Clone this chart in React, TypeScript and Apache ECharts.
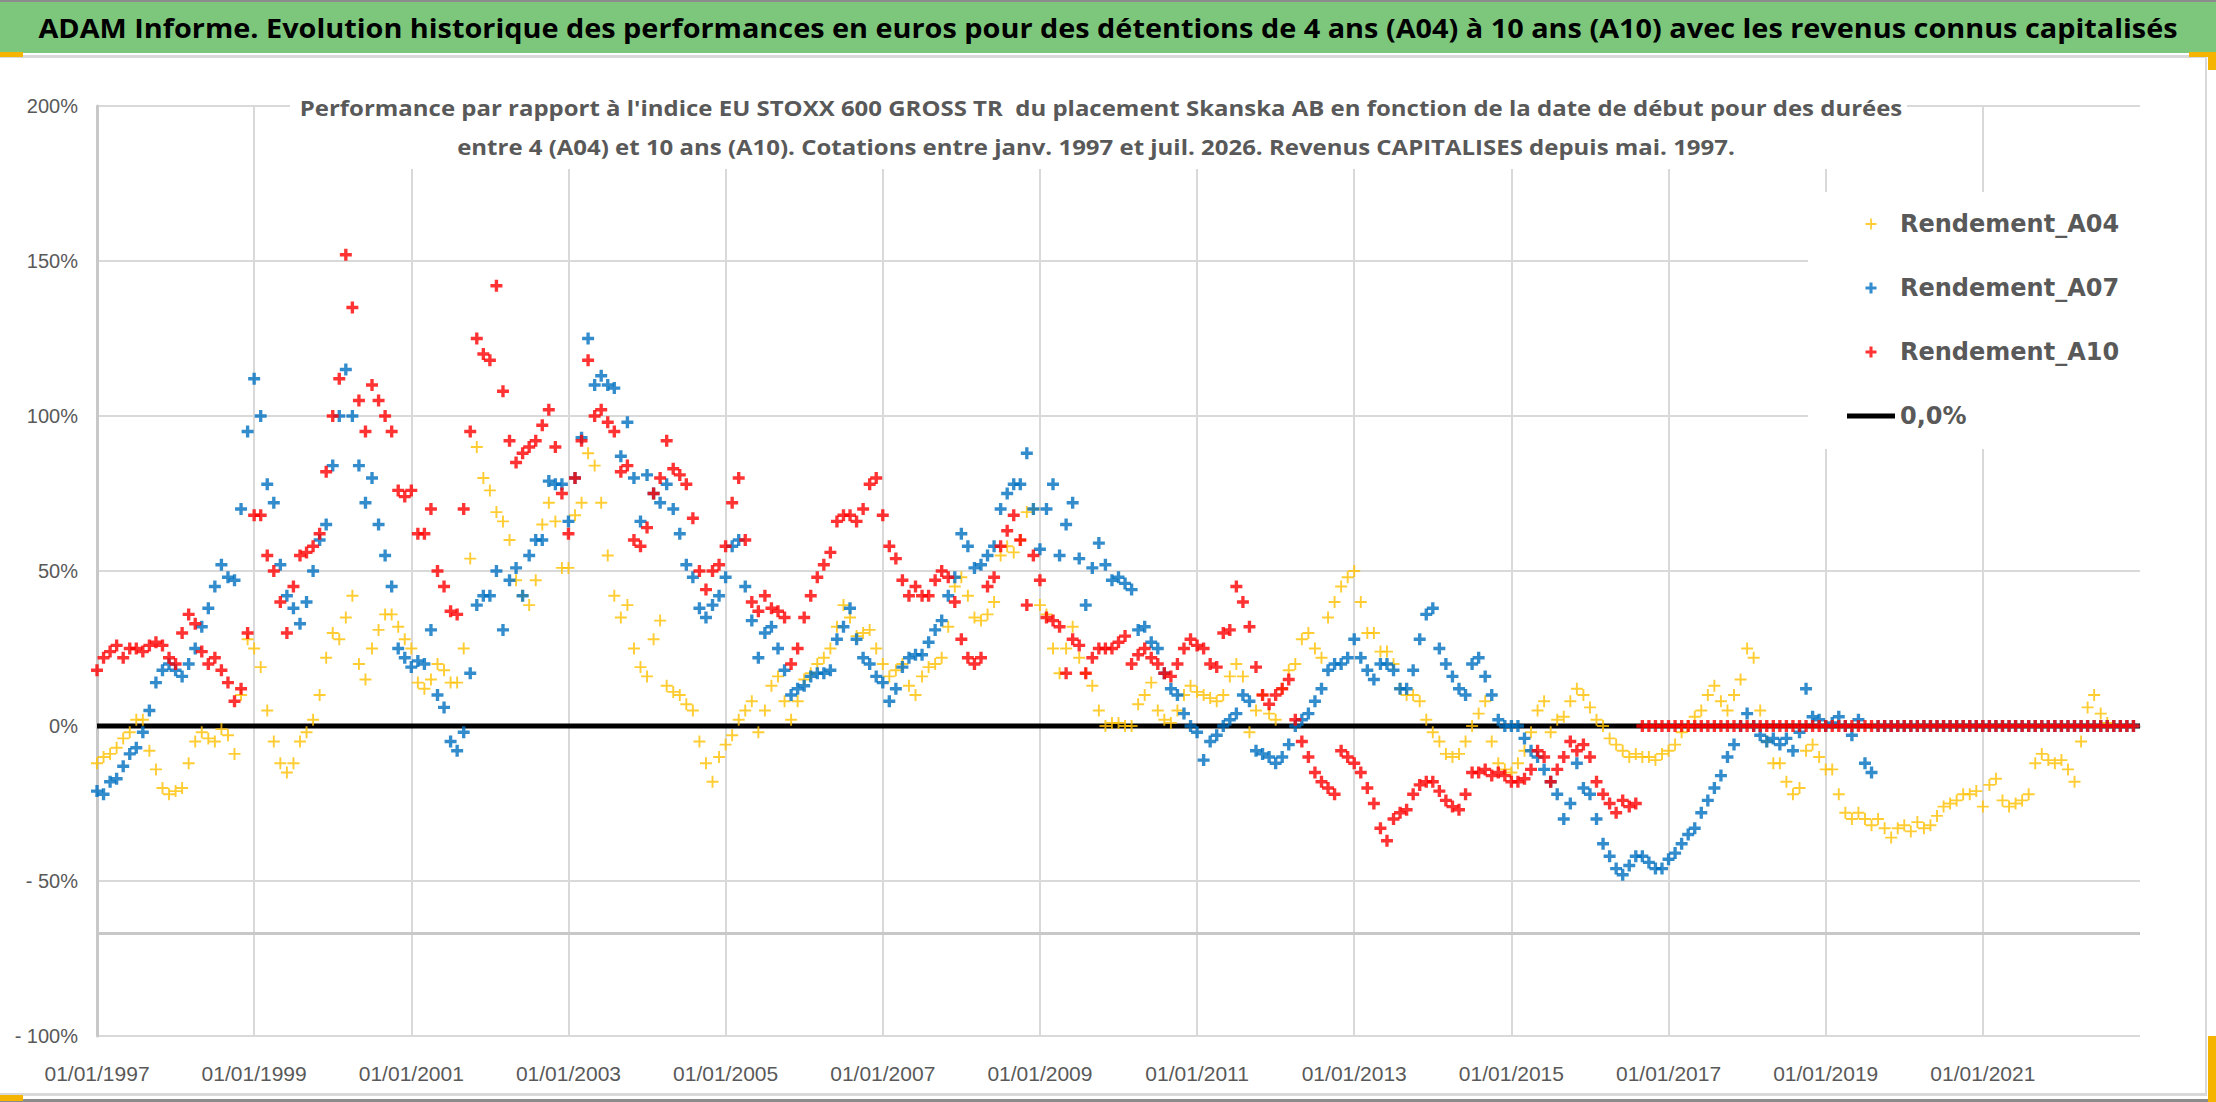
import React, { useEffect, useRef } from 'react';
import * as echarts from 'echarts';

// months since 01/01/1997 are the x values, 12 per row
const xTickLabels = [
  '01/01/1997', '01/01/1999', '01/01/2001', '01/01/2003', '01/01/2005', '01/01/2007',
  '01/01/2009', '01/01/2011', '01/01/2013', '01/01/2015', '01/01/2017', '01/01/2019', '01/01/2021',
];

const seriesNames = ['Rendement_A04', 'Rendement_A07', 'Rendement_A10', '0,0%'];

// performance in %, one value per month from janv. 1997 to déc. 2022
const rendementA04 = [
  -12, -10, -9, -7, -4, -2, 2, 2, -8, -14, -20, -22,
  -21, -20, -12, -5, -2, -4, -5, -1, -3, -9, 10, 28,
  25, 19, 5, -5, -12, -15, -12, -5, -2, 2, 10, 22,
  30, 28, 35, 42, 20, 15, 25, 31, 36, 36, 32, 28,
  25, 14, 12, 15, 20, 18, 14, 14, 25, 54, 90, 80,
  76, 69, 66, 60, 47, 42, 39, 47, 65, 72, 66, 51,
  51, 68, 72, 88, 84, 72, 55, 42, 35, 39, 25, 19,
  16, 28, 34, 13, 11, 10, 7, 5, -5, -12, -18, -10,
  -6, -3, 2, 5, 8, -2, 5, 13, 16, 8, 2, 8,
  15, 17, 20, 22, 25, 32, 39, 35, 29, 30, 31, 25,
  20, 16, 18, 20, 13, 10, 16, 19, 20, 22, 32, 45,
  48, 42, 35, 34, 36, 40, 55, 58, 56, 60, 69, 70,
  39, 36, 25, 17, 25, 32, 22, 17, 13, 5, 0, 1,
  1, 0, 0, 7, 10, 14, 5, 2, 1, 5, 10, 13,
  11, 10, 9, 8, 10, 16, 20, 16, -2, 5, 10, 4,
  2, 12, 18, 20, 28, 30, 25, 22, 35, 40, 45, 48,
  50, 40, 30, 30, 24, 24, 20, 12, 10, 10, 8, 2,
  -2, -5, -9, -10, -9, -5, 0, 4, 8, -5, -12, -14,
  -15, -12, -8, -2, 5, 8, -2, 2, 3, 8, 12, 10,
  6, 2, 0, -4, -6, -8, -10, -9, -10, -10, -11, -9,
  -8, -6, -2, 0, 3, 5, 10, 13, 8, 5, 10, 15,
  25, 22, 5, -5, -12, -12, -18, -22, -20, -8, -6, -10,
  -14, -14, -22, -28, -30, -28, -30, -32, -30, -33, -36, -33,
  -32, -34, -31, -33, -32, -29, -26, -25, -24, -22, -22, -21,
  -26, -19, -17, -24, -26, -25, -24, -22, -12, -9, -11, -12,
  -11, -14, -18, -5, 6, 10, 4, 1, 0, 0, 0, 0,
];

const rendementA07 = [
  -21, -22, -18, -17, -13, -9, -7, -2, 5, 14, 18, 20,
  18, 16, 20, 25, 32, 38, 45, 52, 48, 47, 70, 95,
  112, 100, 78, 72, 52, 42, 38, 33, 40, 50, 60, 65,
  84, 100, 115, 100, 84, 72, 80, 65, 55, 45, 25, 22,
  19, 21, 20, 31, 10, 6, -5, -8, -2, 17, 39, 42,
  42, 50, 31, 47, 51, 42, 55, 60, 60, 79, 78, 78,
  66, 80, 93, 125, 110, 113, 110, 109, 87, 98, 80, 66,
  81, 75, 72, 78, 70, 62, 52, 48, 38, 35, 39, 42,
  48, 58, 60, 45, 34, 22, 30, 32, 25, 18, 10, 12,
  13, 16, 17, 17, 18, 28, 32, 38, 28, 22, 20, 16,
  14, 8, 12, 19, 22, 23, 23, 27, 31, 34, 42, 48,
  62, 58, 51, 52, 55, 58, 70, 75, 78, 78, 88, 70,
  57, 70, 78, 55, 65, 72, 54, 39, 51, 59, 52, 47,
  48, 46, 44, 31, 32, 27, 25, 17, 12, 10, 4, 0,
  -2, -11, -5, -3, 0, 2, 4, 10, 8, -8, -9, -10,
  -12, -10, -6, 0, 2, 4, 8, 12, 18, 20, 20, 22,
  28, 22, 18, 15, 20, 20, 18, 12, 12, 18, 28, 36,
  38, 25, 20, 16, 12, 10, 20, 22, 16, 10, 2, 0,
  0, 0, -4, -8, -10, -14, -18, -22, -30, -25, -12, -20,
  -22, -30, -38, -42, -46, -48, -45, -42, -42, -44, -46, -46,
  -43, -41, -38, -35, -33, -28, -24, -20, -16, -10, -6, 0,
  4, 0, -3, -5, -4, -6, -4, -8, -2, 12, 3, 2,
  0, 1, 3, 0, -3, 2, -12, -15, 0, 0, 0, 0,
  0, 0, 0, 0, 0, 0, 0, 0, 0, 0, 0, 0,
  0, 0, 0, 0, 0, 0, 0, 0, 0, 0, 0, 0,
  0, 0, 0, 0, 0, 0, 0, 0, 0, 0, 0, 0,
];

const rendementA10 = [
  18, 22, 24, 26, 22, 25, 25, 24, 26, 27, 26, 22,
  20, 30, 36, 33, 24, 20, 22, 18, 14, 8, 12, 30,
  68, 68, 55, 50, 40, 30, 45, 55, 56, 58, 62, 82,
  100, 112, 152, 135, 105, 95, 110, 105, 100, 95, 76, 74,
  76, 62, 62, 70, 50, 45, 37, 36, 70, 95, 125, 120,
  118, 142, 108, 92, 85, 88, 90, 92, 97, 102, 90, 75,
  62, 80, 92, 118, 100, 102, 98, 95, 82, 84, 60, 58,
  64, 75, 80, 92, 83, 81, 78, 67, 50, 44, 50, 52,
  58, 72, 80, 60, 40, 37, 42, 38, 37, 35, 20, 25,
  35, 42, 48, 52, 56, 66, 68, 68, 66, 70, 78, 80,
  68, 58, 54, 47, 42, 45, 42, 42, 47, 50, 48, 40,
  28, 22, 20, 22, 45, 48, 58, 63, 68, 60, 39, 55,
  47, 35, 34, 32, 17, 28, 26, 17, 22, 25, 25, 25,
  27, 29, 20, 23, 25, 22, 20, 17, 16, 20, 25, 28,
  26, 25, 20, 19, 30, 31, 45, 40, 32, 19, 10, 7,
  10, 12, 15, 2, -5, -10, -15, -18, -20, -22, -8, -10,
  -12, -15, -20, -25, -33, -37, -30, -28, -27, -22, -19, -18,
  -18, -21, -24, -26, -27, -22, -15, -15, -14, -16, -15, -16,
  -18, -18, -17, -14, -8, -10, -18, -14, -10, -5, -8, -6,
  -10, -18, -22, -25, -28, -24, -26, -25, 0, 0, 0, 0,
  0, 0, 0, 0, 0, 0, 0, 0, 0, 0, 0, 0,
  0, 0, 0, 0, 0, 0, 0, 0, 0, 0, 0, 0,
  0, 0, 0, 0, 0, 0, 0, 0, 0, 0, 0, 0,
  0, 0, 0, 0, 0, 0, 0, 0, 0, 0, 0, 0,
  0, 0, 0, 0, 0, 0, 0, 0, 0, 0, 0, 0,
  0, 0, 0, 0, 0, 0, 0, 0, 0, 0, 0, 0,
];

const zeroLine = [[0, 0], [312, 0]];

const TITLE = 'ADAM Informe. Evolution historique des performances en euros pour des détentions de 4 ans (A04) à 10 ans (A10) avec les revenus connus capitalisés';
const SUBTITLE_1 = "Performance par rapport à l'indice EU STOXX 600 GROSS TR  du placement Skanska AB en fonction de la date de début pour des durées";
const SUBTITLE_2 = 'entre 4 (A04) et 10 ans (A10). Cotations entre janv. 1997 et juil. 2026. Revenus CAPITALISES depuis mai. 1997.';

const plusThin = 'path://M4.2,0H5.8V4.2H10V5.8H5.8V10H4.2V5.8H0V4.2H4.2Z';
const plusBold = 'path://M3.6,0H6.4V3.6H10V6.4H6.4V10H3.6V6.4H0V3.6H3.6Z';

const AXIS_FONT = "'Liberation Sans', sans-serif";
const GREY = '#595959';
const GRID_GREY = '#d9d9d9';
const HANDLE = '#f4b400';

const toPoints = (values: number[]) => values.map((v, i) => [i, v]);

const App: React.FC = () => {
  const chartRef = useRef<HTMLDivElement>(null);

  useEffect(() => {
    document.body.style.margin = '0';
    if (!chartRef.current) return;
    const chart = echarts.init(chartRef.current, undefined, { renderer: 'svg' });

    const scatter = (name: string, data: number[], color: string, symbol: string, size: number) => ({
      name,
      type: 'scatter',
      data: toPoints(data),
      symbol,
      symbolSize: size,
      itemStyle: { color },
      z: 3,
    });

    chart.setOption({
      animation: false,
      backgroundColor: '#fff',
      grid: { left: 97, right: 76, top: 106, bottom: 66, containLabel: false },
      xAxis: {
        type: 'value',
        min: 0,
        max: 312,
        interval: 24,
        axisLine: { show: true, lineStyle: { color: GRID_GREY, width: 3 } },
        axisTick: { show: false },
        splitLine: { show: true, showMaxLine: false, lineStyle: { color: GRID_GREY, width: 2 } },
        axisLabel: {
          margin: 27,
          color: GREY,
          fontSize: 21,
          fontFamily: AXIS_FONT,
          showMaxLabel: false,
          formatter: (v: number) => (v % 24 === 0 && v < 312 ? xTickLabels[v / 24] : ''),
        },
      },
      yAxis: {
        type: 'value',
        min: -100,
        max: 200,
        interval: 50,
        axisLine: { show: true, lineStyle: { color: '#c8c8c8', width: 3 } },
        axisTick: { show: false },
        splitLine: { show: true, lineStyle: { color: GRID_GREY, width: 2 } },
        axisLabel: {
          margin: 19,
          color: GREY,
          fontSize: 20,
          fontFamily: AXIS_FONT,
          formatter: (v: number) => (v < 0 ? `- ${-v}%` : `${v}%`),
        },
      },
      legend: {
        orient: 'vertical',
        left: 1808,
        top: 192,
        backgroundColor: '#fff',
        padding: [17, 40, 18, 39],
        itemWidth: 48,
        itemHeight: 11,
        itemGap: 34,
        textStyle: {
          color: GREY,
          fontSize: 24,
          fontWeight: 'bold',
          fontFamily: "'DejaVu Sans', sans-serif",
          lineHeight: 30,
        },
        data: [
          { name: seriesNames[0] },
          { name: seriesNames[1] },
          { name: seriesNames[2] },
          { name: seriesNames[3], icon: 'path://M0,0H48V5H0Z' },
        ],
      },
      graphic: [
        { type: 'rect', left: 0, top: 0, shape: { width: 2216, height: 53 }, style: { fill: '#7dc77d' }, z: 10 },
        { type: 'rect', left: 0, top: 0, shape: { width: 2216, height: 2 }, style: { fill: '#8c8c8c' }, z: 11 },
        { type: 'rect', left: 0, top: 55, shape: { width: 2207, height: 3 }, style: { fill: GRID_GREY }, z: 11 },
        { type: 'rect', left: 2205, top: 55, shape: { width: 2, height: 1040 }, style: { fill: GRID_GREY }, z: 11 },
        { type: 'rect', left: 0, top: 1093, shape: { width: 2207, height: 3 }, style: { fill: GRID_GREY }, z: 11 },
        { type: 'rect', left: 0, top: 1099, shape: { width: 2216, height: 3 }, style: { fill: '#8c8c8c' }, z: 11 },
        {
          type: 'text',
          x: 1108,
          y: 28,
          scaleX: 1.11,
          style: {
            text: TITLE,
            fill: '#000',
            fontSize: 26,
            fontWeight: 'bold',
            fontFamily: "'Open Sans', sans-serif",
            align: 'center',
            verticalAlign: 'middle',
          },
          z: 12,
        },
        { type: 'rect', left: 290, top: 88, shape: { width: 1617, height: 81 }, style: { fill: '#fff' }, z: 10 },
        {
          type: 'text',
          x: 1101,
          y: 107,
          scaleX: 1.09,
          style: {
            text: SUBTITLE_1,
            fill: GREY,
            fontSize: 22,
            fontWeight: 'bold',
            fontFamily: "'Open Sans', sans-serif",
            align: 'center',
            verticalAlign: 'middle',
          },
          z: 12,
        },
        {
          type: 'text',
          x: 1096,
          y: 146,
          scaleX: 1.09,
          style: {
            text: SUBTITLE_2,
            fill: GREY,
            fontSize: 22,
            fontWeight: 'bold',
            fontFamily: "'Open Sans', sans-serif",
            align: 'center',
            verticalAlign: 'middle',
          },
          z: 12,
        },
        // selection handles of the original chart frame
        { type: 'rect', left: 0, top: 52, shape: { width: 23, height: 5 }, style: { fill: HANDLE }, z: 13 },
        { type: 'rect', left: 2189, top: 52, shape: { width: 27, height: 5 }, style: { fill: HANDLE }, z: 13 },
        { type: 'rect', left: 2208, top: 52, shape: { width: 8, height: 18 }, style: { fill: HANDLE }, z: 13 },
        { type: 'rect', left: 0, top: 1095, shape: { width: 23, height: 6 }, style: { fill: HANDLE }, z: 13 },
        { type: 'rect', left: 2208, top: 1036, shape: { width: 8, height: 66 }, style: { fill: HANDLE }, z: 13 },
      ],
      series: [
        scatter(seriesNames[0], rendementA04, '#ffc000', plusThin, 12),
        scatter(seriesNames[1], rendementA07, '#0070c0', plusBold, 12),
        scatter(seriesNames[2], rendementA10, '#ff0000', plusBold, 12),
        {
          name: seriesNames[3],
          type: 'line',
          data: zeroLine,
          symbol: 'none',
          lineStyle: { color: '#000', width: 5 },
          itemStyle: { color: '#000' },
          z: 2,
          markLine: {
            silent: true,
            symbol: 'none',
            label: { show: false },
            lineStyle: { color: '#c8c8c8', width: 3, type: 'solid' },
            data: [{ yAxis: -66.7 }],
          },
        },
      ],
    });

    const handleResize = () => chart.resize();
    window.addEventListener('resize', handleResize);
    return () => {
      window.removeEventListener('resize', handleResize);
      chart.dispose();
    };
  }, []);

  return <div ref={chartRef} style={{ width: 2216, height: 1102 }} />;
};

export default App;
